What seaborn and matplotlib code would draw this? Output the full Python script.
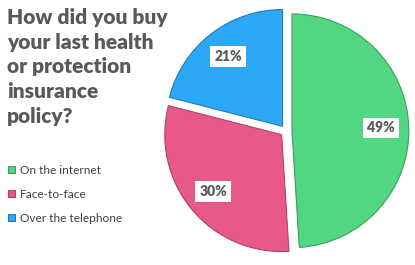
import matplotlib
matplotlib.use("Agg")
import matplotlib.pyplot as plt
import seaborn as sns

categories = ["On the internet", "Face-to-face", "Over the telephone"]
values = [49, 30, 21]
title_text = "How did you buy\nyour last health\nor protection\ninsurance\npolicy?"

colors = ["#52D681", "#E8598A", "#2CA8F6"]
edge_colors = ["#3A9E5E", "#B04268", "#1F7DB8"]

sns.set_theme(style="white")
plt.rcParams['font.family'] = ['Lato', 'DejaVu Sans']

fig = plt.figure(figsize=(4.15, 2.65), dpi=100)
fig.patch.set_facecolor("white")

ax = fig.add_axes([0.3795, 0.0208, 0.62, 0.97])
wedges, texts, autotexts = ax.pie(
    values, colors=colors, startangle=90, counterclock=False,
    explode=[0.05, 0.05, 0.05], autopct="%d%%", pctdistance=0.76,
    wedgeprops=dict(linewidth=0.8),
    textprops=dict(fontsize=10, fontweight="heavy", color="#595959"),
)
for w, ec in zip(wedges, edge_colors):
    w.set_edgecolor(ec)
for t in autotexts:
    t.set_bbox(dict(facecolor="white", edgecolor="none", pad=2.8))
ax.set_xlim(-1.1, 1.1)
ax.set_ylim(-1.1, 1.1)
ax.set_aspect("equal")
ax.axis("off")

fig.text(0.017, 0.97, title_text, ha="left", va="top", fontsize=15,
         fontweight="heavy", color="#595959", linespacing=1.36)

leg = fig.legend(wedges, categories, loc="upper left", bbox_to_anchor=(0.0, 0.41),
                 frameon=False, fontsize=8.6, labelcolor="#404040",
                 handlelength=0.55, handleheight=0.55, handletextpad=0.4,
                 labelspacing=1.08, borderaxespad=0.3)

fig.savefig("out.png", dpi=100, facecolor="white")
